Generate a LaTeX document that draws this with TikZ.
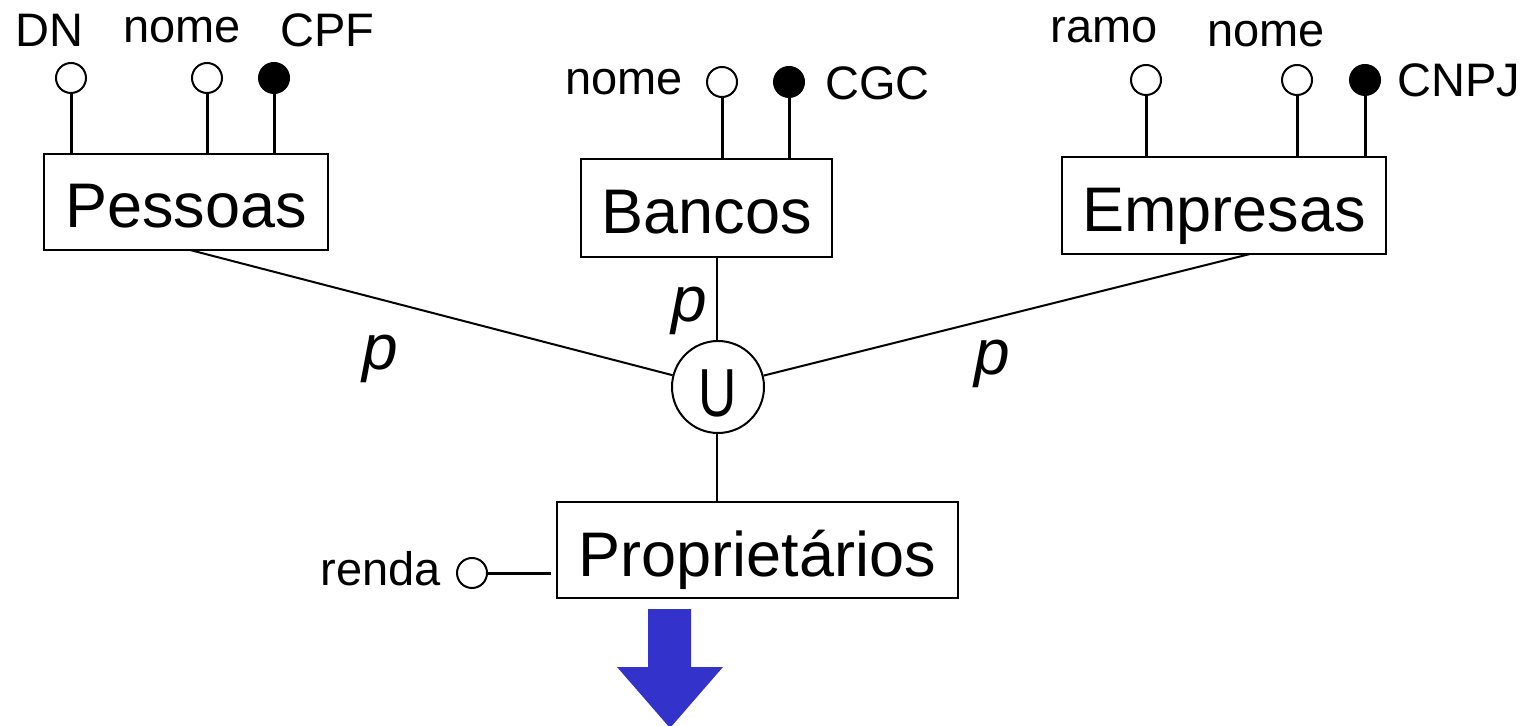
\documentclass[tikz,border=0pt]{standalone}
\usepackage{fontspec}
\setmainfont{Liberation Sans}
\definecolor{arrowblue}{RGB}{51,51,204}
\begin{document}
\begin{tikzpicture}[x=0.5pt,y=-0.5pt,
 ent/.style={draw,line width=1.3pt,inner sep=0pt,font=\fontsize{31.5}{36}\selectfont,text height=26pt,text depth=0pt},
 att/.style={circle,draw,line width=1pt,inner sep=0pt,minimum size=15pt,fill=white},
 keyatt/.style={att,fill=black},
 alab/.style={anchor=base west,inner sep=0pt,font=\fontsize{23.5}{28}\selectfont},
 plab/.style={anchor=base west,inner sep=0pt,font=\fontsize{32}{36}\selectfont\itshape},
 attline/.style={line width=1.5pt},
 conn/.style={line width=1pt}]
\useasboundingbox (0,0) rectangle (1524,726);

% entities
\node[ent,minimum width=142pt,minimum height=48pt] (pes) at (186,202) {Pessoas};
\node[ent,minimum width=125.5pt,minimum height=49pt] (ban) at (706.5,208) {Bancos};
\node[ent,minimum width=162pt,minimum height=48.5pt] (emp) at (1224,205.5) {Empresas};
\node[ent,minimum width=200.5pt,minimum height=48pt] (pro) at (757.5,550) {Proprietários};

% union
\node[circle,draw,line width=1pt,inner sep=0pt,minimum size=46pt,font=\fontsize{34}{38}\selectfont,text height=30pt,text depth=0pt] (u) at (718,387) {\scalebox{0.78}[1]{U}};

% Pessoas attributes
\node[att] (pdn) at (71,78) {};
\node[att] (pnome) at (207,78) {};
\node[keyatt] (pcpf) at (274,78) {};
\draw[attline] (pdn.south) -- (pdn.south |- pes.north);
\draw[attline] (pnome.south) -- (pnome.south |- pes.north);
\draw[attline] (pcpf.south) -- (pcpf.south |- pes.north);
\node[alab] (ldn) at (15,47) {DN};
\node[alab] (lpnome) at (123,43) {nome};
\node[alab] (lcpf) at (280,47) {CPF};

% Bancos attributes
\node[att] (bnome) at (722,82) {};
\node[keyatt] (bcgc) at (789,82) {};
\draw[attline] (bnome.south) -- (bnome.south |- ban.north);
\draw[attline] (bcgc.south) -- (bcgc.south |- ban.north);
\node[alab] (lbnome) at (565,95) {nome};
\node[alab] (lcgc) at (825,100) {CGC};

% Empresas attributes
\node[att] (eramo) at (1146,80) {};
\node[att] (enome) at (1297,80) {};
\node[keyatt] (ecnpj) at (1365,80) {};
\draw[attline] (eramo.south) -- (eramo.south |- emp.north);
\draw[attline] (enome.south) -- (enome.south |- emp.north);
\draw[attline] (ecnpj.south) -- (ecnpj.south |- emp.north);
\node[alab] (lramo) at (1050,43) {ramo};
\node[alab] (lenome) at (1207,47) {nome};
\node[alab] (lcnpj) at (1397,97) {CNPJ};

% Proprietarios attribute
\node[att] (prenda) at (472,573) {};
\coordinate (rendaend) at (551,573);
\draw[attline] (prenda.east) -- (rendaend);
\node[alab] (lrenda) at (320,585) {renda};

% connectors to union
\coordinate (pesend) at (190,250);
\coordinate (empend) at (1250,254);
\draw[conn] (u) -- (pesend);
\draw[conn] (u) -- (empend);
\draw[conn] ([xshift=-0.5pt]u.north) -- ([xshift=-0.5pt]u.north |- ban.south);
\draw[conn] ([xshift=-0.5pt]u.south) -- ([xshift=-0.5pt]u.south |- pro.north);

% p labels
\node[plab] (p1) at (362,370) {p};
\node[plab] (p2) at (671,322) {p};
\node[plab] (p3) at (974,375) {p};

% blue arrow
\fill[arrowblue] (648,609) -- (691,609) -- (691,667) -- (723,667) -- (670,728) -- (617,667) -- (648,667) -- cycle;
\end{tikzpicture}
\end{document}
